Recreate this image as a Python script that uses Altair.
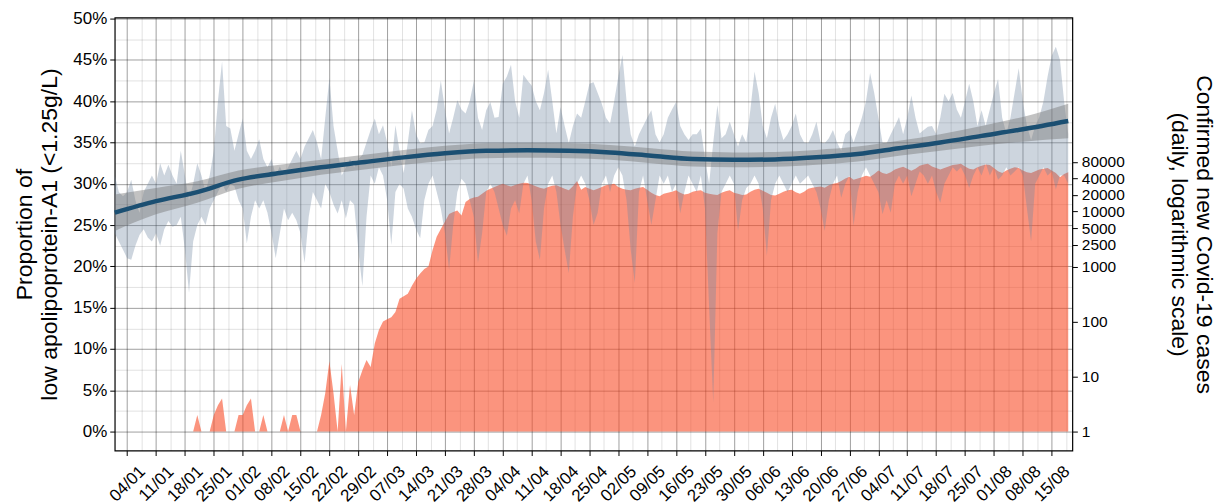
import altair as alt
import pandas as pd

START = "2020-01-01"

# Daily band of the proportion (percent): upper and lower edges
upper = [
    31, 29, 28.5, 29, 30.5, 28, 26.5, 29, 30, 31,
    30, 32.5, 31, 32.3, 31, 30, 34, 31, 28, 30,
    32.5, 31, 29, 31, 34, 40, 44.8, 37, 36.7, 34,
    36, 37.9, 34, 33, 34, 35.4, 33, 32, 33, 31,
    32.1, 31, 32, 33, 34, 33, 34.5, 35.5, 36.5, 35,
    33, 38, 42.8, 37, 34, 31, 32, 33, 32, 33,
    33.5, 35, 36.5, 37.9, 36, 37.1, 35, 32.1, 37.1, 34,
    31.3, 35, 38.9, 36, 34.9, 35, 36.5, 37, 39, 42.5,
    39, 36.1, 38, 40.1, 39, 38.5, 40, 42.4, 38, 36.5,
    38.9, 39.9, 38, 38.1, 42.1, 43, 44.4, 40, 38, 43.2,
    42.5, 41.9, 40, 38.9, 41, 43.8, 40, 36.1, 39.3, 37,
    34.9, 37, 38.5, 38, 40, 42.1, 42.3, 41, 39.7, 38,
    37.3, 40, 43, 45.6, 40, 36, 34.5, 36, 37, 38,
    38.9, 36, 35, 36, 38, 39, 39.9, 37, 36, 35.3,
    36, 36, 36.7, 33, 30, 35, 39.5, 35.5, 36, 37.5,
    36, 34.5, 36, 35, 39, 43.6, 41, 37, 35.5, 38,
    39.7, 37, 35.3, 36, 37, 38.5, 36, 35, 34.9, 36,
    37.5, 35, 34.9, 35.5, 36.5, 35, 34, 36, 36.5, 35,
    36.5, 38, 40, 43.4, 41, 38, 35, 34.9, 36, 37,
    38.1, 36, 38, 40.7, 38, 36.1, 36.5, 36.9, 37, 36,
    38, 40.9, 40, 41, 39, 38, 40, 42.1, 40, 37,
    38.9, 37, 39, 41, 42.7, 38, 36.1, 38, 41, 44,
    40, 37, 35.3, 37, 38.1, 40, 43, 45.5, 46.6, 45,
    40, 36,
]
lower = [
    24, 23, 22, 21, 20.8, 22.5, 23.8, 24.5, 23.5, 23,
    24, 22.5, 24.5, 25.5, 24.8, 25, 26, 22, 16.8, 23,
    25, 26, 25, 27, 28, 29, 30, 29, 30, 29.7,
    28, 27, 22.8, 26, 28, 27, 28, 26.5, 24, 21,
    24, 27, 25.6, 26.5, 25.6, 24, 20.4, 26, 29, 28,
    27, 30, 29, 27.5, 26.4, 28, 25.8, 28, 27.5, 22,
    17.6, 26, 31, 30, 32, 31, 28, 22.6, 29, 30,
    29.4, 27, 26, 24.5, 23.4, 28, 30, 31, 29, 27,
    24, 19.6, 25, 29, 30.6, 30, 28, 26, 20.4, 24,
    29, 30, 29, 27, 25, 23.7, 27, 28, 26.4, 30,
    31, 28, 23, 20.8, 27, 30, 31, 29, 25, 22,
    19.2, 26, 30, 31, 30, 28, 25, 26.5, 30, 31,
    29, 31, 32, 31, 28, 22, 18, 29, 31, 28,
    25, 28, 31, 30, 31, 29, 30, 26.4, 29, 31,
    30, 29, 31, 27, 15, 3.5, 24, 29, 30, 31,
    30, 24.3, 28, 29.5, 30, 31, 30, 27, 21.3, 28,
    30, 31, 30, 29, 30, 31, 30, 30.5, 31, 30,
    29, 27, 24.3, 28, 30, 31, 28.3, 30, 31, 24.9,
    29, 31, 32, 31, 30, 29, 26.3, 28, 26.5, 30,
    31, 30, 31, 28.5, 30, 31.5, 31, 30, 31, 29,
    27.7, 30, 31, 32, 31.5, 32, 31, 29.5, 31, 32,
    31, 32.5, 31, 32, 30.5, 31, 32, 31, 31.5, 32,
    31, 27, 23, 30, 31, 32, 31, 31.5, 29.3, 31,
    31, 30,
]
# Confirmed new cases per day
cases = [
    0, 0, 0, 0, 0, 0, 0, 0, 0, 0,
    0, 0, 0, 0, 0, 0, 0, 0, 0, 0,
    2, 0, 0, 0, 2, 3, 4, 0, 0, 0,
    2, 2, 3, 4, 0, 0, 2, 0, 0, 0,
    0, 2, 0, 2, 2, 0, 0, 0, 0, 0,
    2, 5, 19, 5, 1, 17, 1, 7, 2, 8,
    13, 20, 15, 40, 70, 100, 110, 120, 150, 260,
    290, 320, 450, 600, 750, 900, 1000, 2000, 3500, 4800,
    6500, 9000, 9800, 10500, 8500, 15000, 17000, 18000, 18500, 21000,
    24000, 26000, 28000, 30000, 32000, 30000, 28500, 30500, 32000, 33500,
    33000, 31000, 29000, 27000, 26000, 28000, 29500, 30000, 28000, 26000,
    24500, 29000, 36000, 25000, 28000, 26000, 24500, 26000, 28000, 30000,
    31000, 32000, 28000, 26000, 25000, 24500, 26000, 27000, 28000, 25000,
    22000, 20000, 19000, 21000, 22000, 23000, 24500, 22000, 20500, 21000,
    23000, 24000, 24500, 22000, 21000, 20500, 20000, 22000, 23500, 24500,
    22000, 21000, 20000, 20500, 23000, 25000, 26000, 24000, 22000, 20000,
    19500, 21000, 23000, 24500, 25000, 22500, 21000, 23000, 26000, 27000,
    28000, 28500, 27000, 30000, 32000, 33000, 36000, 40000, 43000, 38000,
    40000, 42000, 45000, 43000, 48000, 56000, 50000, 48000, 52000, 58000,
    62000, 65000, 60000, 55000, 60000, 68000, 72000, 74000, 66000, 62000,
    58000, 62000, 66000, 70000, 72000, 74000, 66000, 60000, 58000, 64000,
    68000, 72000, 70000, 62000, 54000, 50000, 56000, 60000, 64000, 62000,
    56000, 52000, 50000, 54000, 58000, 60000, 62000, 56000, 50000, 42000,
    48000, 52000,
]

# Smoothed trend (percent) with its confidence band, read at these day offsets
trend_day = [0, 10, 20, 30, 40, 50, 60, 70, 80, 90, 100, 110, 120, 130, 140,
             150, 160, 170, 180, 190, 200, 210, 220, 231]
trend_fit = [26.5, 27.9, 29.0, 30.5, 31.3, 32.0, 32.6, 33.2, 33.7, 34.0, 34.05,
             34.0, 33.8, 33.4, 33.0, 32.9, 32.95, 33.2, 33.6, 34.3, 35.0, 35.8,
             36.6, 37.6]
trend_lo = [24.3, 26.3, 27.7, 29.4, 30.3, 31.1, 31.7, 32.3, 32.8, 33.1, 33.15,
            33.1, 32.9, 32.5, 32.1, 32.0, 32.05, 32.3, 32.7, 33.4, 34.0, 34.6,
            35.1, 35.5]
trend_hi = [28.7, 29.5, 30.3, 31.6, 32.3, 32.9, 33.5, 34.1, 34.6, 34.9, 34.95,
            34.9, 34.7, 34.3, 33.9, 33.8, 33.85, 34.1, 34.5, 35.2, 36.0, 37.0,
            38.1, 39.7]

pct_ticks = [0, 2.5, 5, 7.5, 10, 12.5, 15, 17.5, 20, 22.5, 25, 27.5, 30, 32.5,
             35, 37.5, 40, 42.5, 45, 47.5, 50]
case_ticks = [1, 10, 100, 1000, 2500, 5000, 10000, 20000, 40000, 80000]

# ---------------------------------------------------------------- data frames
dates = pd.date_range(START, periods=len(cases), freq="D").strftime("%Y-%m-%d")
df = pd.DataFrame({"date": dates, "upper": upper, "lower": lower, "cases": cases})
tdates = (pd.Timestamp(START) + pd.to_timedelta(trend_day, unit="D")).strftime("%Y-%m-%d")
tdf = pd.DataFrame({"date": tdates, "fit": trend_fit, "lo": trend_lo, "hi": trend_hi})

majors = pd.date_range("2020-01-04", "2020-08-15", freq="7D")
minors = majors + pd.Timedelta(hours=84)
x_ticks = sorted(int(t.value // 10**6) for t in list(majors) + list(minors))

FONT = "Liberation Sans"
x_scale = alt.Scale(
    type="utc",
    domain=[alt.DateTime(year=2020, month=1, date=1, utc=True),
            alt.DateTime(year=2020, month=8, date=20, utc=True)],
)
is_major_x = "utchours(datum.value) == 0"
x_axis = alt.Axis(
    values=x_ticks,
    labelExpr=f"{is_major_x} ? utcFormat(datum.value, '%d/%m') : ''",
    labelAngle=-45, labelAlign="center", labelBaseline="middle",
    labelPadding=28, labelOverlap=False, labelFlush=False,
    tickSize=5, tickColor="black",
    tickOpacity={"condition": {"test": is_major_x, "value": 1}, "value": 0},
    grid=True, gridColor="black", gridWidth=1,
    gridOpacity={"condition": {"test": is_major_x, "value": 0.38}, "value": 0.12},
    domain=False, title=None,
)
x_enc = alt.X("date:T", scale=x_scale, axis=x_axis)

is_major_y = "datum.value % 5 == 0"
y_scale = alt.Scale(domain=[-2.29, 50.12], nice=False, zero=False)
y_axis = alt.Axis(
    orient="left", values=pct_ticks,
    labelExpr=f"{is_major_y} ? datum.value + '%' : ''",
    tickSize=5, tickColor="black",
    tickOpacity={"condition": {"test": is_major_y, "value": 1}, "value": 0},
    grid=True, gridColor="black", gridWidth=1,
    gridOpacity={"condition": {"test": is_major_y, "value": 0.38}, "value": 0.12},
    domain=False, labelPadding=3,
    title=["Proportion of", "low apolipoprotein-A1 (<1.25g/L)"],
    titlePadding=11,
)

cases_layer = (
    alt.Chart(df)
    .transform_calculate(shown="max(datum.cases, 1)")
    .mark_area(color="#F84D28", opacity=0.6, interpolate="linear")
    .encode(
        x=x_enc,
        y=alt.Y(
            "shown:Q",
            scale=alt.Scale(type="log", domain=[0.453, 3.36e7], nice=False),
            axis=alt.Axis(
                orient="right", values=case_ticks, format="d",
                labelOverlap=False, labelFlush=False, labelFontSize=15.5,
                tickSize=5, tickColor="black", grid=False, domain=False,
                labelPadding=4,
                title=["Confirmed new Covid-19 cases", "(daily, logarithmic scale)"],
                titlePadding=42,
            ),
        ),
        y2=alt.datum(1),
    )
)

ribbon = (
    alt.Chart(df)
    .mark_area(color="#7087A1", opacity=0.35)
    .encode(x=x_enc, y=alt.Y("lower:Q", scale=y_scale, axis=y_axis), y2="upper:Q")
)
band = (
    alt.Chart(tdf)
    .mark_area(color="#777777", opacity=0.45, interpolate="monotone")
    .encode(x=x_enc, y=alt.Y("lo:Q", scale=y_scale, axis=y_axis), y2="hi:Q")
)
line = (
    alt.Chart(tdf)
    .mark_line(color="#1B4F72", strokeWidth=4.5, interpolate="monotone")
    .encode(x=x_enc, y=alt.Y("fit:Q", scale=y_scale, axis=y_axis))
)

left_group = alt.layer(ribbon, band, line)

chart = (
    alt.layer(cases_layer, left_group)
    .resolve_scale(y="independent")
    .properties(width=960, height=434, background="white",
                padding={"left": 5, "top": 0, "right": 2, "bottom": 0})
    .configure_view(stroke="black", strokeWidth=1.2)
    .configure_axis(
        labelFont=FONT, titleFont=FONT, labelColor="black", titleColor="black",
        labelFontSize=17, titleFontSize=23, titleFontWeight="normal",
        titleLineHeight=25,
    )
)

chart.save("out.html", embed_options={"renderer": "svg", "actions": False})
